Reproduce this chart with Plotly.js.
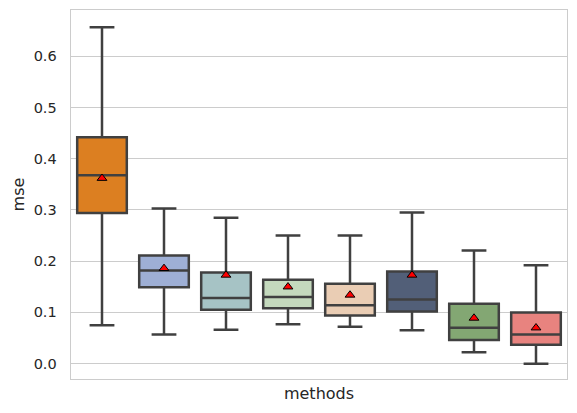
<!DOCTYPE html>
<html>
<head>
<meta charset="utf-8">
<script src="https://cdn.plot.ly/plotly-3.0.1.min.js"></script>
<style>html,body{margin:0;padding:0;background:#fff;}#chart{width:577px;height:413px;}</style>
</head>
<body>
<div id="chart"></div>
<script>
// Data
const methods = ["m1", "m2", "m3", "m4", "m5", "m6", "m7", "m8"];
const lowerWhisker = [0.075, 0.057, 0.066, 0.077, 0.072, 0.065, 0.022, 0.000];
const q1Values     = [0.294, 0.149, 0.105, 0.108, 0.094, 0.102, 0.046, 0.037];
const medianValues = [0.368, 0.182, 0.128, 0.130, 0.114, 0.125, 0.070, 0.057];
const q3Values     = [0.442, 0.211, 0.178, 0.164, 0.156, 0.180, 0.117, 0.100];
const upperWhisker = [0.657, 0.303, 0.285, 0.250, 0.250, 0.295, 0.221, 0.192];
const meanValues   = [0.362, 0.186, 0.173, 0.150, 0.134, 0.173, 0.089, 0.070];
const yTickValues  = [0.0, 0.1, 0.2, 0.3, 0.4, 0.5, 0.6];
const yTickLabels  = ["0.0", "0.1", "0.2", "0.3", "0.4", "0.5", "0.6"];

const boxColors = ["#dc7f21", "#9eafd5", "#a6c3c5", "#c4d9bd", "#eacdb4", "#525f78", "#83a773", "#e8837f"];
const edge = "#404040";

const traces = methods.map((m, i) => ({
  type: "box",
  x: [m],
  q1: [q1Values[i]],
  median: [medianValues[i]],
  q3: [q3Values[i]],
  lowerfence: [lowerWhisker[i]],
  upperfence: [upperWhisker[i]],
  fillcolor: boxColors[i],
  line: {color: edge, width: 2.5},
  width: 0.8,
  whiskerwidth: 0.5,
  boxpoints: false,
  hoverinfo: "skip",
  showlegend: false
}));

traces.push({
  type: "scatter",
  mode: "markers",
  x: methods,
  y: meanValues,
  marker: {symbol: "triangle-up", size: 8.5, color: "#ff0000", line: {color: "#000000", width: 1}},
  showlegend: false,
  hoverinfo: "skip"
});

const layout = {
  width: 577,
  height: 413,
  margin: {l: 71, r: 10, t: 10, b: 34},
  paper_bgcolor: "#ffffff",
  plot_bgcolor: "#ffffff",
  font: {family: "DejaVu Sans", color: "#262626", size: 14.5},
  boxmode: "overlay",
  xaxis: {
    type: "category",
    categoryorder: "array",
    categoryarray: methods,
    range: [-0.5, 7.5],
    showticklabels: false,
    ticks: "",
    showgrid: false,
    zeroline: false,
    showline: true,
    mirror: true,
    linecolor: "#cccccc",
    linewidth: 1.4,
    title: {text: "methods", font: {size: 16, color: "#262626"}, standoff: 8}
  },
  yaxis: {
    range: [-0.030, 0.6905],
    tickvals: yTickValues,
    ticktext: yTickLabels,
    ticks: "",
    ticklabelstandoff: 10,
    showgrid: true,
    gridcolor: "#cccccc",
    gridwidth: 1,
    zeroline: false,
    showline: true,
    mirror: true,
    linecolor: "#cccccc",
    linewidth: 1.4,
    title: {text: "mse", font: {size: 16, color: "#262626"}, standoff: 5}
  }
};

Plotly.newPlot("chart", traces, layout, {displayModeBar: false, staticPlot: true});
</script>
</body>
</html>
